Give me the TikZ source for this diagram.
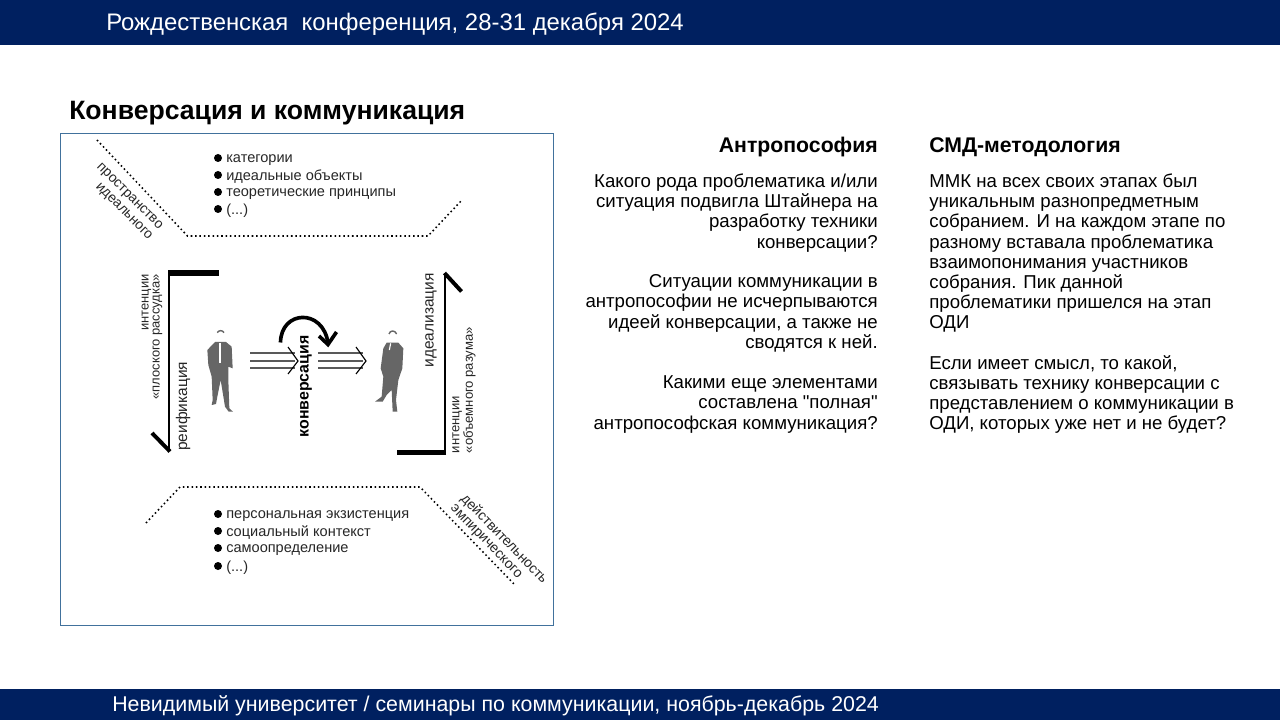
\documentclass[tikz,border=0pt]{standalone}
\usepackage{fontspec}
\setmainfont{Liberation Sans}
\newfontfamily\plainfont{Liberation Sans}
\definecolor{barblue}{HTML}{002060}
\definecolor{framesteel}{HTML}{41719C}
\definecolor{figuregray}{HTML}{666666}
\tikzset{
  bartext/.style={color=white, anchor=west, inner sep=0pt},
  headtext/.style={anchor=west, inner sep=0pt, font=\bfseries\fontsize{15.1}{18}\selectfont},
  bodytext/.style={anchor=north west, inner sep=0pt, align=left, font=\fontsize{13.25}{14.37}\selectfont},
  listtext/.style={anchor=west, inner sep=0pt, color=black!85, font=\fontsize{10.35}{12}\selectfont},
  sidetext/.style={inner sep=0pt, color=black!85, font=\fontsize{9.2}{7.8}\selectfont},
  dotline/.style={line width=1.1pt, dotted, line cap=butt},
  flowline/.style={line width=0.8pt, color=black!65},
}
\begin{document}
\begin{tikzpicture}[x=0.025cm,y=-0.025cm]
  \useasboundingbox (0,0) rectangle (1280,720);

  % Top and bottom bars
  \fill[barblue] (0,0) rectangle (1280,45);
  \fill[barblue] (0,689) rectangle (1280,720);
  \node (conference) [bartext, font=\fontsize{17}{20}\selectfont] at (106,24) {Рождественская~ конференция, 28-31 декабря 2024};
  \node (seminar) [bartext, font=\fontsize{15.2}{18}\selectfont] at (112,706) {Невидимый университет / семинары по коммуникации, ноябрь-декабрь 2024};

  % Title
  \node (title) [anchor=west, inner sep=0pt, font=\bfseries\fontsize{18.9}{21}\selectfont] at (69,113) {Конверсация и коммуникация};

  % Frame
  \draw[framesteel, line width=0.7pt] (60.5,133.5) rectangle (553.5,625.5);

  % Dotted borders
  \draw[dotline] (97,140) -- (187.5,236) -- (428,236) -- (462,200);
  \draw[dotline] (146,523) -- (180,487) -- (420,487) -- (514,584);

  % Rotated captions
  \node (ideal) [sidetext, rotate=-45, align=right, font=\fontsize{9.9}{10.4}\selectfont] at (124,202) {пространство\\идеального};
  \node (empiric) [sidetext, rotate=-46, align=left, font=\fontsize{10}{10}\selectfont] at (499,544) {действительность\\эмпирического};

  % Upper list
  \foreach \ypos/\itemname/\itemtext in {158/catg/категории, 175/objc/идеальные объекты, 192/prin/теоретические принципы} {
    \fill (218,\ypos) circle (4);
    \node (\itemname) [listtext] at (226,\ypos+2) {\itemtext};
  }
  \fill (218,209) circle (4);
  \node (etcu) [listtext] at (226,211) {(...)};
  % Lower list
  \foreach \ypos/\itemname/\itemtext in {514/pers/персональная экзистенция, 531/socl/социальный контекст, 548/self/самоопределение} {
    \fill (218,\ypos) circle (4);
    \node (\itemname) [listtext] at (226,\ypos+2) {\itemtext};
  }
  \fill (218,566) circle (4);
  \node (etcl) [listtext] at (226,568) {(...)};

  % Left bracket
  \draw[line width=2.1pt] (169,273) -- (169,451);
  \draw[line width=3.8pt] (168,273) -- (218.5,273);
  \draw[line width=2.8pt] (152,433) -- (170,451.5);
  % Right bracket
  \draw[line width=2.1pt] (445,453) -- (445,273);
  \draw[line width=3.8pt] (446,452.5) -- (397,452.5);
  \draw[line width=2.8pt] (444.5,273) -- (461.5,291.5);

  % Bracket labels
  \node (flat) [sidetext, rotate=90, align=right, anchor=east] at (152,274) {интенции\\«плоского рассудка»};
  \node (reif) [sidetext, rotate=90, anchor=west, font=\fontsize{11}{12}\selectfont] at (183,451) {реификация};
  \node (idea) [sidetext, rotate=90, anchor=east, font=\fontsize{11}{12}\selectfont] at (431,273) {идеализация};
  \node (vol) [sidetext, rotate=90, align=left, anchor=west, font=\fontsize{9.3}{7}\selectfont] at (464,453.5) {интенции\\«объемного разума»};

  % Figures
  \begin{scope}[shift={(190,300)},x=0.00833cm,y=-0.00833cm]
    \fill[figuregray] (75,126) -- (108,126) -- (125,140) -- (128,205) -- (115,200) -- (115,240) -- (118,325) -- (129,335) -- (116,335) -- (105,320) -- (92,240) -- (82,290) -- (78,312) -- (65,315) -- (68,300) -- (65,230) -- (55,195) -- (52,150) -- cycle;
    \draw[white, line width=2pt] (90,130) -- (90,190);
    \draw[figuregray, line width=1pt] (82,98) .. controls (86,90) and (98,90) .. (102,98);
    \fill[figuregray] (590,128) -- (625,128) -- (640,145) -- (637,205) -- (625,240) -- (618,300) -- (622,335) -- (608,335) -- (605,270) -- (590,285) -- (578,305) -- (555,305) -- (575,290) -- (580,230) -- (572,205) -- (580,145) -- cycle;
    \draw[white, line width=0.8pt] (602,130) -- (598,150);
    \draw[figuregray, line width=1pt] (597,102) .. controls (600,90) and (615,90) .. (620,102);
  \end{scope}

  % Flow arrows
  \foreach \xpos in {0,68} {
    \foreach \ypos in {353,361,368} {
      \draw[flowline] (250+\xpos,\ypos) -- (295+\xpos,\ypos);
    }
    \draw[line width=0.8pt] (288+\xpos,347) -- (298+\xpos,361) -- (288+\xpos,374);
  }

  % Conversion turn
  \draw[line width=2.6pt] (280.5,342.5) .. controls (281,310) and (323,308) .. (328,343);
  \draw[line width=2.6pt] (319,336) -- (328,344.5) -- (336.5,332);
  \node (conv) [rotate=90, anchor=west, inner sep=0pt, font=\bfseries\fontsize{11.3}{13}\selectfont] at (306,437.5) {конверсация};

  % Left column
  \node (anthro) [headtext, anchor=east] at (878,147) {Антропософия};
  \node (q1) [bodytext, anchor=north east, align=right] at (878,173.5) {Какого рода проблематика и/или\\ситуация подвигла Штайнера на\\разработку техники\\конверсации?};
  \node (q2) [bodytext, anchor=north east, align=right] at (878,274.5) {Ситуации коммуникации в\\антропософии не исчерпываются\\идеей конверсации, а также не\\сводятся к ней.};
  \node (q3) [bodytext, anchor=north east, align=right] at (878,375.5) {Какими еще элементами\\составлена {\plainfont "полная"}\\антропософская коммуникация?};

  % Right column
  \node (smd) [headtext] at (929,147) {СМД-методология};
  \node (a1) [bodytext] at (929,173.5) {ММК на всех своих этапах был\\уникальным разнопредметным\\собранием. И на каждом этапе по\\разному вставала проблематика\\взаимопонимания участников\\собрания. Пик данной\\проблематики пришелся на этап\\ОДИ};
  \node (a2) [bodytext] at (929,355) {Если имеет смысл, то какой,\\связывать технику конверсации с\\представлением о коммуникации в\\ОДИ, которых уже нет и не будет?};
\end{tikzpicture}
\end{document}
